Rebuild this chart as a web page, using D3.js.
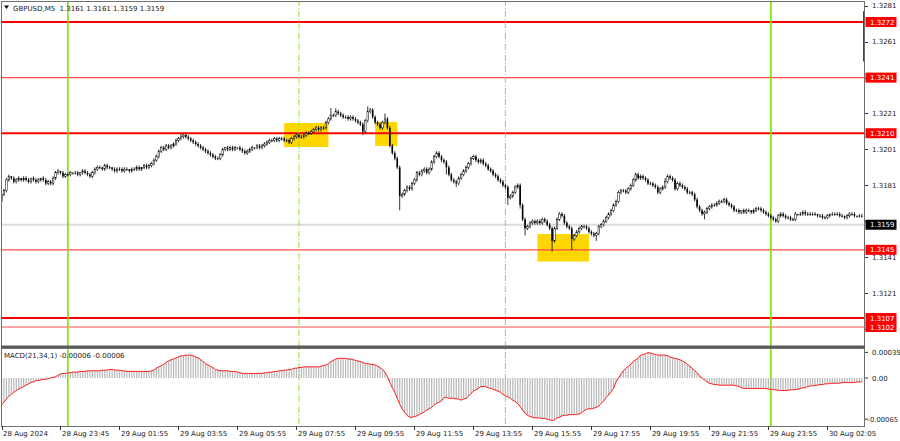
<!DOCTYPE html>
<html><head><meta charset="utf-8">
<script src="https://cdn.jsdelivr.net/npm/d3@7"></script>
<style>body{margin:0;background:#fff;overflow:hidden}text{font-family:"DejaVu Sans",sans-serif;font-size:7px;fill:#1a1a1a}</style>
</head><body><svg id="c" width="900" height="441"></svg>
<script>
// ---------------- data ----------------
const symbol = "GBPUSD,M5";
const headerQuote = ["1.3161", "1.3161", "1.3159", "1.3159"];
const macdTitle = "MACD(21,34,1) -0.00006 -0.00006";
const basePrice = 1.3;          // candle values are pips above 1.3000
const firstOpenPips = 172;
const closePips = [
176,178,184,186,185,183,184,185,184,185,
184,183,185,184,183,184,185,184,182,183,
182,185,188,189,188,186,187,187,188,188,
188,187,188,189,188,187,186,188,190,191,
191,190,192,191,191,190,189,190,190,189,
190,190,189,190,190,191,190,191,192,191,
192,193,195,197,200,202,201,203,202,203,
204,206,207,208,209,208,207,206,205,204,
203,202,201,200,199,198,197,196,196,198,
201,202,201,202,201,202,202,201,200,199,
200,201,202,202,203,202,203,204,205,206,
206,207,206,207,207,206,206,205,207,208,
209,208,208,209,210,210,211,212,213,212,
213,213,216,218,220,220,222,221,220,219,
219,218,219,218,217,216,215,211,217,222,
223,219,216,215,213,216,218,213,203,199,
196,191,175,176,178,180,179,182,184,188,
187,189,190,188,190,194,197,199,197,195,
194,191,187,184,183,182,185,187,189,191,
193,196,197,195,194,195,193,192,190,189,
187,186,184,183,181,180,174,175,177,180,
181,170,162,157,158,160,161,160,161,160,
162,161,159,157,150,157,162,165,164,160,
158,157,151,153,155,157,158,158,157,155,
154,153,154,158,159,161,163,165,167,170,
172,177,178,178,177,179,181,184,187,185,
186,185,184,182,182,181,180,177,179,180,
183,186,185,184,179,182,181,180,179,177,
177,176,173,169,167,165,166,168,169,170,
170,171,172,172,173,171,170,169,167,167,
166,167,166,167,167,166,167,168,168,167,
166,165,164,163,162,161,164,165,164,163,
163,162,162,165,165,165,166,165,165,165,
165,165,164,164,163,163,164,165,165,165,
165,164,164,163,164,165,165,164,164,164,164];
const wickUp = [
1,1,1,1,0,1,1,1,0,1,
1,1,0,1,1,1,0,1,1,1,
1,1,1,1,0,1,1,1,1,0,
1,1,0,1,1,1,1,1,1,1,
1,0,1,1,1,0,1,1,1,1,
1,1,0,1,1,1,1,0,1,1,
1,1,1,1,1,1,1,1,1,1,
1,1,1,2,1,1,1,1,1,1,
1,1,1,1,1,1,1,1,1,1,
1,0,1,1,1,1,0,1,1,1,
1,1,1,0,1,1,1,1,1,1,
1,1,1,1,1,1,1,1,1,1,
1,1,1,1,1,1,1,1,1,1,
1,1,1,1,4,1,2,1,1,1,
1,1,1,1,1,1,1,1,1,3,
1,1,1,1,1,1,3,1,1,1,
1,1,1,1,1,1,1,1,1,1,
1,1,1,1,1,1,1,1,1,1,
1,1,1,1,1,1,1,1,1,1,
1,1,1,1,1,1,1,1,1,1,
1,1,1,1,1,1,1,1,1,1,
1,1,1,1,1,1,1,1,1,1,
1,1,1,1,1,1,1,1,1,1,
1,1,1,1,1,1,1,1,1,1,
1,1,1,1,1,1,1,1,1,1,
1,1,1,1,1,1,1,1,1,1,
1,1,1,1,1,1,1,1,1,1,
2,1,1,1,1,1,1,1,1,1,
1,1,1,1,1,1,1,1,1,1,
1,1,1,1,1,1,1,1,1,1,
1,0,1,1,1,0,1,1,1,1,
1,1,1,1,1,1,1,1,1,1,
1,1,1,1,0,1,1,1,1,1,
1,1,0,1,1,1,1,0,1,1,
1,1,1,0,1,1,1,1,0,1,1];
const wickDown = [
2,1,1,1,1,1,1,1,1,1,
1,1,1,1,1,1,1,1,1,1,
1,1,1,1,1,1,1,1,1,1,
1,1,1,1,1,1,1,1,1,1,
1,1,1,1,1,1,1,1,1,1,
1,1,1,1,1,1,1,1,1,1,
1,1,1,1,1,1,1,1,1,1,
1,1,1,1,1,1,1,1,1,1,
1,1,1,1,1,1,1,1,1,1,
1,1,1,1,1,1,1,1,1,1,
1,1,1,1,1,1,1,1,1,1,
1,1,1,1,1,1,1,1,1,1,
1,1,1,1,1,1,1,1,1,1,
1,1,1,1,1,1,1,1,1,1,
1,1,1,1,1,1,1,2,1,1,
1,1,1,1,1,1,1,1,1,1,
1,1,8,1,1,1,1,1,1,1,
1,1,1,1,1,1,1,1,1,1,
1,4,1,1,1,2,1,1,1,1,
1,1,1,1,1,1,1,1,1,1,
1,1,1,1,1,1,4,1,1,1,
1,2,1,4,1,1,1,1,1,1,
1,1,1,1,6,1,1,1,1,1,
1,1,6,1,1,1,1,1,1,1,
1,1,3,1,1,1,1,1,1,1,
1,1,1,1,1,1,1,1,1,1,
1,1,1,1,1,1,1,1,1,1,
1,1,1,1,1,1,1,1,1,1,
1,1,1,1,1,1,3,1,1,1,
1,1,1,1,1,1,1,1,1,1,
1,1,1,1,1,1,1,1,1,1,
1,1,1,1,1,1,1,1,1,1,
1,1,1,1,1,1,1,1,1,1,
1,1,1,1,1,1,1,1,1,1,
1,1,1,1,1,1,1,1,1,1,1];
const lastBarSpike = [1.3278, 1.3250];   // last (forming) bar drawn at the right edge
// MACD histogram values in units of 0.00001
const macdVals = [
-41,-37,-32,-28,-25,-22,-19,-17,-15,-13,
-11,-9,-7,-6,-4,-4,-3,-2,-2,-1,
0,1,2,4,6,7,7,8,8,9,
9,9,10,10,10,11,11,11,11,11,
11,12,12,12,13,13,12,12,12,11,
11,10,10,10,10,10,10,10,10,10,
10,11,12,15,17,19,21,24,26,28,
29,31,32,34,34,35,35,35,34,32,
31,28,25,22,20,18,16,13,12,11,
11,11,11,10,10,10,9,8,7,7,
7,7,7,7,7,7,7,8,8,9,
9,10,10,11,11,12,12,13,13,15,
15,16,16,17,17,17,17,17,17,17,
18,19,20,22,25,27,29,30,30,30,
30,29,29,28,27,26,25,24,22,22,
21,21,20,18,16,13,9,2,-7,-15,
-22,-31,-40,-47,-53,-57,-60,-60,-59,-58,
-56,-54,-52,-49,-47,-45,-41,-39,-37,-35,
-30,-30,-31,-31,-31,-32,-32,-34,-32,-31,
-28,-24,-20,-18,-16,-13,-13,-13,-15,-16,
-17,-19,-20,-22,-25,-27,-29,-31,-34,-36,
-39,-44,-49,-54,-57,-59,-60,-61,-61,-61,
-62,-62,-63,-64,-65,-64,-61,-60,-58,-57,
-57,-56,-56,-56,-56,-55,-53,-50,-48,-47,
-47,-46,-45,-43,-39,-35,-30,-26,-21,-16,
-6,0,6,11,15,18,21,25,28,30,
35,36,37,39,38,37,36,35,35,35,
35,34,32,31,30,29,28,26,24,21,
18,15,11,8,3,0,-3,-6,-8,-9,
-10,-10,-11,-11,-11,-11,-11,-11,-11,-12,
-13,-15,-16,-16,-16,-16,-16,-16,-16,-16,
-16,-16,-17,-17,-18,-18,-19,-19,-19,-19,
-19,-18,-18,-18,-17,-16,-15,-15,-13,-12,
-12,-11,-11,-10,-10,-9,-9,-8,-8,-8,
-8,-8,-7,-7,-7,-7,-7,-7,-6,-6,-6];
const macdTicks = [0.00039, 0.00, -0.00065];
const macdTickText = ["0.00039", "0.00", "-0.00065"];

const levels = [1.3272, 1.3241, 1.3210, 1.3145, 1.3107, 1.3102];
const levelStrong = [true, false, true, false, true, false];
const lastPrice = 1.3159;
const priceTicks = [1.3281, 1.3261, 1.3241, 1.3221, 1.3201, 1.3181, 1.3161, 1.3141, 1.3121, 1.3101];

const timeLabels = ["28 Aug 2024","28 Aug 23:45","29 Aug 01:55","29 Aug 03:55","29 Aug 05:55",
  "29 Aug 07:55","29 Aug 09:55","29 Aug 11:55","29 Aug 13:55","29 Aug 15:55","29 Aug 17:55",
  "29 Aug 19:55","29 Aug 21:55","29 Aug 23:55","30 Aug 02:05"];
const timeLabelBars = [0,24,48,72,96,120,144,168,192,216,240,264,288,312,336];

const dayLineBars = [27, 313];
const sessionLineBars = [121, 205];

const boxStartBar = [115, 152, 218];
const boxEndBar = [133, 161, 239];
const boxTop = [1.32157, 1.32163, 1.31538];
const boxBottom = [1.32023, 1.32029, 1.31385];

// ---------------- layout ----------------
const svg = d3.select("#c");
const L = 1, R = 865, mainTop = 1, mainBottom = 346, macdTop = 348, macdBottom = 426;

const x = d3.scaleLinear().domain([0, 336]).range([1.5, 827.4]);
const y = d3.scaleLinear().domain([1.3102, 1.3272]).range([327, 22]);
const ym = d3.scaleLinear().domain([-0.00065, 0.00039]).range([420.5, 352.5]);

const defs = svg.append("defs");
defs.append("clipPath").attr("id","cm").append("rect").attr("x",L).attr("y",mainTop).attr("width",R-L).attr("height",mainBottom-mainTop);
defs.append("clipPath").attr("id","cd").append("rect").attr("x",L).attr("y",macdTop).attr("width",R-L).attr("height",macdBottom-macdTop);

svg.append("rect").attr("width",900).attr("height",441).attr("fill","#fff");

const gMain = svg.append("g").attr("clip-path","url(#cm)");
const gMacd = svg.append("g").attr("clip-path","url(#cd)");

// yellow boxes
gMain.selectAll("rect.box").data(boxStartBar.map((s,k)=>({s,e:boxEndBar[k],t:boxTop[k],b:boxBottom[k]})))
  .enter().append("rect")
  .attr("x",d=>x(d.s)).attr("width",d=>x(d.e)-x(d.s))
  .attr("y",d=>y(d.t)).attr("height",d=>y(d.b)-y(d.t))
  .attr("fill","#ffd700");

// last price line
gMain.append("line").attr("x1",L).attr("x2",R).attr("y1",y(lastPrice)).attr("y2",y(lastPrice))
  .attr("stroke","#dcdcdc").attr("stroke-width",2);

// level lines
gMain.selectAll("line.lvl").data(levels).enter().append("line")
  .attr("x1",L).attr("x2",R).attr("y1",d=>y(d)).attr("y2",d=>y(d))
  .attr("stroke",(d,k)=>levelStrong[k]?"#ff0000":"#ff4a4a")
  .attr("stroke-width",(d,k)=>levelStrong[k]?2:1.2);

// vertical lines in both panels
[gMain, gMacd].forEach(g=>{
  g.selectAll("line.day").data(dayLineBars).enter().append("line")
    .attr("x1",d=>x(d)).attr("x2",d=>x(d)).attr("y1",0).attr("y2",441)
    .attr("stroke","#7fe000").attr("stroke-width",1.6);
  g.selectAll("line.ses").data(sessionLineBars).enter().append("line")
    .attr("x1",d=>x(d)).attr("x2",d=>x(d)).attr("y1",0).attr("y2",441)
    .attr("stroke","#8ee03a").attr("stroke-width",1).attr("stroke-dasharray","6,2,1,2");
});

// candles
const toPrice = p => basePrice + p/10000;
const bars = closePips.map((c,i)=>{
  const o = i ? closePips[i-1] : firstOpenPips;
  return {i, o:toPrice(o), c:toPrice(c),
    h:toPrice(Math.max(o,c)+wickUp[i]), l:toPrice(Math.min(o,c)-wickDown[i])};
});
const gc = gMain.append("g");
gc.selectAll("line.w").data(bars).enter().append("line")
  .attr("x1",d=>x(d.i)).attr("x2",d=>x(d.i)).attr("y1",d=>y(d.h)).attr("y2",d=>y(d.l))
  .attr("stroke","#000").attr("stroke-width",0.8);
gc.selectAll("rect.b").data(bars).enter().append("rect")
  .attr("x",d=>x(d.i)-0.8).attr("width",1.6)
  .attr("y",d=>y(Math.max(d.o,d.c)))
  .attr("height",d=>Math.max(0.8, Math.abs(y(d.o)-y(d.c))))
  .attr("fill",d=>d.c>d.o?"#fff":"#000")
  .attr("stroke",d=>d.c>d.o?"#000":"none").attr("stroke-width",0.5);
gc.append("rect").attr("x",x(closePips.length)-1).attr("width",2)
  .attr("y",y(lastBarSpike[0])).attr("height",y(lastBarSpike[1])-y(lastBarSpike[0])).attr("fill","#000");

// MACD histogram + signal
gMacd.selectAll("rect.h").data(macdVals).enter().append("rect")
  .attr("x",(d,i)=>x(i)-0.6).attr("width",1.2)
  .attr("y",d=>Math.min(ym(d*1e-5), ym(0))).attr("height",d=>Math.abs(ym(d*1e-5)-ym(0)))
  .attr("fill","#b8b8b8");
gMacd.append("path").datum(macdVals)
  .attr("d", d3.line().x((d,i)=>x(i)).y(d=>ym(d*1e-5)))
  .attr("fill","none").attr("stroke","#ff1a1a").attr("stroke-width",1);

// frames
svg.append("rect").attr("x",L+0.5).attr("y",mainTop+0.5).attr("width",R-L-1).attr("height",mainBottom-mainTop)
  .attr("fill","none").attr("stroke","#707070");
svg.append("rect").attr("x",L).attr("y",mainBottom-0.5).attr("width",R-L).attr("height",2.5).attr("fill","#5a5a5a");
svg.append("rect").attr("x",L+0.5).attr("y",macdTop+0.5).attr("width",R-L-1).attr("height",macdBottom-macdTop)
  .attr("fill","none").attr("stroke","#707070");

// price axis ticks & labels (labels hidden under a level/price tag are not drawn)
const tagPrices = levels.concat([lastPrice]);
const visibleTicks = priceTicks.filter(v => tagPrices.every(p => Math.abs(y(p)-y(v)) > 6.5));
const ga = svg.append("g");
ga.selectAll("line.pt").data(priceTicks).enter().append("line")
  .attr("x1",R).attr("x2",R+3).attr("y1",d=>Math.round(y(d))+0.5).attr("y2",d=>Math.round(y(d))+0.5)
  .attr("stroke","#333");
ga.selectAll("text.pt").data(visibleTicks).enter().append("text")
  .attr("x",R+7).attr("y",d=>y(d)+2.6).text(d=>d.toFixed(4));

// red level labels
const lab = ga.selectAll("g.lab").data(levels).enter().append("g");
lab.append("rect").attr("x",R+0.5).attr("width",31).attr("y",d=>y(d)-5).attr("height",10).attr("fill","#ff0000");
lab.append("text").attr("x",R+5).attr("y",d=>y(d)+2.6).style("fill","#fff").text(d=>d.toFixed(4));
// last price label
ga.append("rect").attr("x",R+0.5).attr("width",31).attr("y",y(lastPrice)-5).attr("height",10).attr("fill","#000");
ga.append("text").attr("x",R+5).attr("y",y(lastPrice)+2.6).style("fill","#fff").text(lastPrice.toFixed(4));

// MACD axis
const macdLabelShift = [2.5, 2.6, 1.2];
ga.selectAll("line.mt").data(macdTicks).enter().append("line")
  .attr("x1",R).attr("x2",R+3).attr("y1",(d,k)=>ym(d)+macdLabelShift[k]-2.6).attr("y2",(d,k)=>ym(d)+macdLabelShift[k]-2.6)
  .attr("stroke","#333");
ga.selectAll("text.mt").data(macdTicks).enter().append("text")
  .attr("x",(d,k)=> d<0 ? R+2.5 : R+7).attr("y",(d,k)=>ym(d)+macdLabelShift[k])
  .style("font-size",(d)=> d<0 ? "6.8px" : "7px").text((d,k)=>macdTickText[k]);

// time axis
ga.selectAll("line.tt").data(timeLabelBars).enter().append("line")
  .attr("x1",d=>Math.round(x(d))+0.5).attr("x2",d=>Math.round(x(d))+0.5).attr("y1",macdBottom).attr("y2",macdBottom+4)
  .attr("stroke","#333");
ga.selectAll("text.tt").data(timeLabelBars).enter().append("text")
  .attr("x",d=>x(d)+1.5).attr("y",436).text((d,k)=>timeLabels[k]);

// headers
svg.append("path").attr("d","M4,5.5L9,5.5L6.5,9Z").attr("fill","#000");
svg.append("text").attr("x",13).attr("y",10.5).attr("xml:space","preserve")
  .text(symbol + "  " + headerQuote.join(" "));
svg.append("text").attr("x",4).attr("y",358).text(macdTitle);
</script></body></html>
